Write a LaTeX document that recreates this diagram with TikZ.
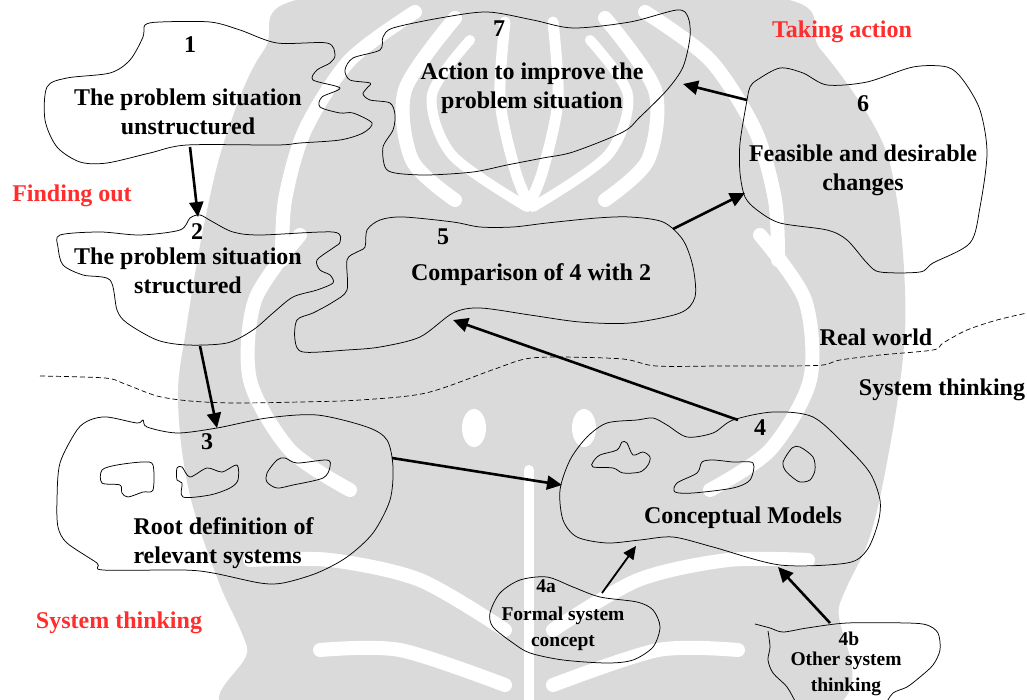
\documentclass[tikz,border=0pt]{standalone}
\usepackage{fontspec}
\setmainfont{Liberation Serif}
\usetikzlibrary{arrows.meta}
\definecolor{wm}{RGB}{218,218,218}
\definecolor{lblred}{RGB}{255,45,45}
\tikzset{
  blob/.style={draw=black, line width=0.75pt},
  arr/.style={line width=2.6pt, -{Triangle[length=15pt,width=14pt]}},
  thinarr/.style={line width=1.8pt, -{Triangle[length=13pt,width=12pt]}},
  lbl/.style={font=\fontsize{24}{29}\selectfont\bfseries, align=center, inner sep=0pt},
  num/.style={font=\fontsize{24}{29}\selectfont\bfseries, inner sep=0pt, anchor=base},
  small/.style={font=\fontsize{19.5}{26}\selectfont\bfseries, align=center, inner sep=0pt},
  region/.style={font=\fontsize{24}{29}\selectfont\bfseries, text=lblred, inner sep=0pt, anchor=base},
  world/.style={font=\fontsize{24}{29}\selectfont\bfseries, inner sep=0pt, anchor=base},
  dashline/.style={line width=0.7pt, dash pattern=on 5pt off 3pt},
  wband/.style={draw=white, line width=14pt, line cap=round},
}
\begin{document}
\begin{tikzpicture}[x=1pt,y=-1pt]
\useasboundingbox (0,0) rectangle (1027,700);
% ---------- watermark ----------
\begin{scope}
\clip (0,0) rectangle (1027,700);
\fill[wm] plot[smooth cycle, tension=0.6] coordinates {(326,-5) (264,50) (227,133) (205,220) (186,330) (178,400) (189,491) (218,580) (247,647) (262,720) (800,720) (840,603) (870,536) (890,446) (903,357) (905,290) (897,200) (878,133) (821,50) (760,-5)};
% outer rings
\draw[wband] plot[smooth] coordinates {(415,12) (350,60) (305,130) (285,200) (282,260)};
\draw[wband] plot[smooth] coordinates {(645,12) (710,60) (755,130) (775,200) (778,260)};
% cup arcs
\draw[wband] plot[smooth] coordinates {(455,18) (405,90) (412,160) (455,200)};
\draw[wband] plot[smooth] coordinates {(605,18) (655,90) (648,160) (605,200)};
\draw[wband, line width=10pt] plot[smooth] coordinates {(470,40) (432,95) (452,155) (527,207)};
\draw[wband, line width=10pt] plot[smooth] coordinates {(590,40) (628,95) (608,155) (533,207)};
% central leaves
\draw[wband, line width=11pt] plot[smooth] coordinates {(505,22) (500,100) (515,170) (529,205)};
\draw[wband, line width=11pt] plot[smooth] coordinates {(553,22) (558,100) (543,170) (529,205)};
% mid arcs
\draw[wband] plot[smooth] coordinates {(300,235) (255,300) (250,380) (290,450) (350,490)};
\draw[wband] plot[smooth] coordinates {(760,235) (805,300) (810,380) (770,450) (710,490)};
% drops and central stripe
\fill[white] (474,428) ellipse [x radius=12, y radius=19];
\fill[white] (584,428) ellipse [x radius=12, y radius=19];
\draw[wband, line width=10pt] (529,470) -- (529,710);
% lower wings
\draw[wband] plot[smooth] coordinates {(505,630) (420,580) (330,560) (250,560)};
\draw[wband] plot[smooth] coordinates {(553,630) (638,580) (728,560) (808,560)};
\draw[wband] plot[smooth] coordinates {(505,685) (400,650) (320,650)};
\draw[wband] plot[smooth] coordinates {(553,685) (658,650) (738,650)};
\end{scope}
% ---------- blobs ----------
\draw[blob] plot[smooth cycle, tension=0.5] coordinates {(145,25) (160,22) (210,22) (240,30) (277,43) (327,43) (335,55) (330,63) (317,70) (313,80) (340,88) (322,97) (320,107) (340,113) (353,113) (372,123) (363,133) (340,140) (300,143) (277,145) (187,145) (150,153) (107,163) (80,162) (57,147) (45,120) (47,87) (67,78) (110,73) (130,60) (143,37)};
\draw[blob] plot[smooth cycle, tension=0.5] coordinates {(383,37) (393,28) (440,18) (487,12) (533,20) (573,28) (630,22) (677,10) (688,17) (690,37) (683,67) (667,90) (640,117) (623,132) (573,152) (543,158) (507,165) (473,172) (427,175) (395,173) (385,167) (383,147) (393,130) (395,115) (390,103) (370,100) (363,94) (367,88) (370,83) (350,80) (345,70) (353,58) (380,50)};
\draw[blob] plot[smooth cycle, tension=0.5] coordinates {(757,80) (780,68) (803,73) (827,85) (867,82) (913,67) (947,67) (963,80) (980,110) (987,153) (980,207) (970,243) (933,263) (920,272) (880,272) (867,263) (847,240) (827,230) (780,223) (757,210) (745,197) (740,173) (740,143) (747,100) (750,87)};
\draw[blob] plot[smooth cycle, tension=0.5] coordinates {(60,235) (100,232) (140,235) (180,230) (190,218) (200,215) (213,222) (233,232) (260,235) (333,232) (340,242) (333,248) (317,260) (320,270) (330,275) (333,283) (317,290) (293,297) (273,313) (253,330) (227,343) (187,345) (157,340) (127,323) (117,310) (110,280) (83,275) (63,265) (58,247)};
\draw[blob] plot[smooth cycle, tension=0.5] coordinates {(367,230) (380,220) (403,217) (453,222) (480,227) (513,227) (547,223) (597,218) (630,217) (663,222) (683,240) (693,267) (695,297) (680,313) (630,323) (580,322) (530,315) (480,308) (453,313) (420,337) (380,347) (347,350) (303,352) (295,340) (297,320) (313,313) (333,302) (347,290) (347,260) (357,252) (365,247)};
\draw[blob] plot[smooth cycle, tension=0.5] coordinates {(60,463) (77,430) (90,420) (107,417) (137,423) (143,420) (147,427) (177,433) (217,428) (267,418) (317,415) (367,427) (387,440) (393,467) (390,500) (373,533) (347,557) (317,573) (283,583) (260,583) (213,573) (183,570) (103,570) (97,563) (67,543) (58,527) (57,500)};
\draw[blob] plot[smooth cycle, tension=0.5] coordinates {(102,470) (117,465) (143,462) (153,465) (153,490) (143,492) (128,497) (122,493) (120,485) (102,483)};
\draw[blob] plot[smooth cycle, tension=0.5] coordinates {(177,468) (182,467) (190,477) (207,468) (222,472) (237,465) (238,480) (230,488) (210,495) (183,497) (182,483) (177,480)};
\draw[blob] plot[smooth cycle, tension=0.5] coordinates {(267,473) (277,460) (285,458) (297,463) (327,460) (330,467) (323,478) (293,485) (277,488) (267,482)};
\draw[blob] plot[smooth cycle, tension=0.5] coordinates {(560,490) (570,460) (587,437) (607,423) (637,420) (653,418) (667,425) (687,437) (713,433) (733,420) (773,412) (813,417) (847,447) (870,473) (880,500) (878,523) (867,550) (847,563) (780,565) (713,547) (673,537) (640,540) (607,543) (577,537) (563,520)};
\draw[blob] plot[smooth cycle, tension=0.5] coordinates {(593,462) (600,455) (617,450) (622,442) (627,443) (633,455) (643,452) (650,457) (648,465) (640,472) (623,473) (613,468) (593,467)};
\draw[blob] plot[smooth cycle, tension=0.5] coordinates {(677,483) (697,473) (702,462) (713,460) (733,462) (753,463) (750,480) (733,488) (693,493) (675,492)};
\draw[blob] plot[smooth cycle, tension=0.5] coordinates {(783,462) (792,448) (800,447) (813,457) (815,470) (810,480) (800,482) (792,477) (785,470)};
\draw[blob] plot[smooth cycle, tension=0.5] coordinates {(490,613) (500,593) (520,580) (547,577) (573,587) (600,597) (637,602) (653,610) (660,627) (653,647) (633,660) (607,663) (563,660) (530,653) (513,643) (493,627)};
\begin{scope}
\clip (0,0) rectangle (1027,700);
\draw[blob] plot[smooth, tension=0.5] coordinates {(755,624) (770,628) (783,632) (807,628) (847,623) (907,623) (927,625) (938,633) (940,650) (933,665) (920,677) (907,687) (893,693) (885,705)};
\draw[blob] plot[smooth, tension=0.5] coordinates {(768,631) (770,647) (768,660) (773,673) (787,687) (797,705)};
\end{scope}
% ---------- boundary ----------
\draw[dashline] plot[smooth, tension=0.5] coordinates {(40,376) (105,378) (125,384) (157,396) (190,401) (233,403) (300,402) (360,400) (426,393) (492,370) (525,359) (558,357) (623,359) (656,366) (722,366) (787,366) (823,365) (840,360) (880,355) (933,350) (943,343) (967,330) (997,320) (1027,313)};
% ---------- texts ----------
\node[num] (n1) at (190,53) {1};
\node[lbl] (t1) at (188,111.5) {The problem situation\\unstructured};
\node[num] (n7) at (499,37) {7};
\node[lbl] (t7) at (532,88.5) {Action to improve the\\problem situation};
\node[num] (n6) at (863,112) {6};
\node[lbl] (t6) at (863,170.5) {Feasible and desirable\\changes};
\node[num] (n2) at (197,240) {2};
\node[lbl] (t2) at (188,270.5) {The problem situation\\structured};
\node[num] (n5) at (443,245) {5};
\node[lbl, anchor=base] (t5) at (531,281) {Comparison of 4 with 2};
\node[num] (n3) at (207,449) {3};
\node[lbl, align=left] (t3) at (223.5,543.5) {Root definition of\\relevant systems};
\node[num] (n4) at (760,435) {4};
\node[lbl, anchor=base] (t4) at (743,523) {Conceptual Models};
\node[small, anchor=base] (n4a) at (546,592) {4a};
\node[small] (t4a) at (563,629) {Formal system\\concept};
\node[small, anchor=base] (n4b) at (849,645) {4b};
\node[small] (t4b) at (846,674) {Other system\\thinking};
\node[region] (rTA) at (842,38) {Taking action};
\node[region] (rFO) at (72,202) {Finding out};
\node[region] (rST) at (119,628) {System thinking};
\node[world] (rRW) at (876,345) {Real world};
\node[world] (rST2) at (942,395) {System thinking};
% ---------- connectors ----------
\coordinate (a1s) at (190,147); \coordinate (a1e) at (198,217);
\coordinate (a2s) at (200,346); \coordinate (a2e) at (217,428);
\coordinate (a3s) at (392,458); \coordinate (a3e) at (562,485);
\coordinate (a4s) at (738,420); \coordinate (a4e) at (453,320);
\coordinate (a5s) at (673,229); \coordinate (a5e) at (745,193);
\coordinate (a6s) at (747,100); \coordinate (a6e) at (683,84);
\coordinate (a7s) at (602,593); \coordinate (a7e) at (636,546);
\coordinate (a8s) at (830,623); \coordinate (a8e) at (778,567);
\draw[arr] (a1s) -- (a1e);
\draw[arr] (a2s) -- (a2e);
\draw[arr] (a3s) -- (a3e);
\draw[arr] (a4s) -- (a4e);
\draw[arr] (a5s) -- (a5e);
\draw[arr] (a6s) -- (a6e);
\draw[thinarr] (a7s) -- (a7e);
\draw[arr] (a8s) -- (a8e);
\end{tikzpicture}
\end{document}
